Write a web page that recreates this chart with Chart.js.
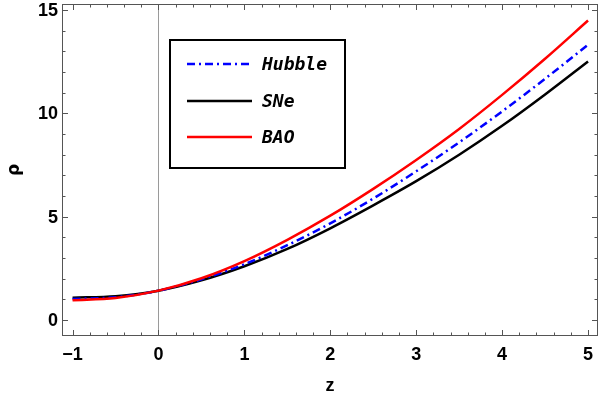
<!DOCTYPE html>
<html>
<head>
<meta charset="utf-8">
<script src="https://cdn.jsdelivr.net/npm/chart.js@4.4.0/dist/chart.umd.min.js"></script>
<style>
  html, body { margin: 0; padding: 0; background: #fff; }
  #wrap { width: 600px; height: 397px; position: relative; }
</style>
</head>
<body>
<div id="wrap"><canvas id="c"></canvas></div>
<script>
// values
const zValues = [-1, -0.5, 0, 0.5, 1, 1.5, 2, 2.5, 3, 3.5, 4, 4.5, 5];
const hubble  = [1.02, 1.10, 1.42, 1.97, 2.70, 3.62, 4.68, 5.88, 7.20, 8.60, 10.10, 11.68, 13.33];
const sne     = [1.08, 1.15, 1.42, 1.92, 2.60, 3.44, 4.44, 5.55, 6.72, 8.00, 9.40, 10.92, 12.52];
const bao     = [0.96, 1.06, 1.42, 2.02, 2.85, 3.88, 5.05, 6.35, 7.75, 9.25, 10.90, 12.65, 14.50];
const seriesNames = ["Hubble", "SNe", "BAO"];
const xTicks = [-1, 0, 1, 2, 3, 4, 5];
const yTicks = [0, 5, 10, 15];

const toPoints = (ys) => ys.map((v, i) => ({ x: zValues[i], y: v }));
const fmt = (v) => (v < 0 ? "\u2212" + Math.abs(v) : String(v));

const labelFont = "bold 18px 'Liberation Sans', Arial, sans-serif";

const framePlugin = {
  id: "frame",
  beforeDatasetsDraw(chart) {
    const { ctx, chartArea: a, scales: { x } } = chart;
    const px = Math.round(x.getPixelForValue(0)) + 0.5;
    ctx.save();
    ctx.strokeStyle = "#9a9a9a";
    ctx.lineWidth = 1;
    ctx.beginPath();
    ctx.moveTo(px, a.top);
    ctx.lineTo(px, a.bottom);
    ctx.stroke();
    ctx.restore();
  },
  afterDraw(chart) {
    const { ctx, chartArea: a, scales: { x, y } } = chart;
    ctx.save();
    ctx.strokeStyle = "#555";
    ctx.lineWidth = 1;
    ctx.strokeRect(a.left + 0.5, a.top + 0.5, a.right - a.left - 1, a.bottom - a.top - 1);

    const tick = (x0, y0, x1, y1) => {
      ctx.beginPath(); ctx.moveTo(x0, y0); ctx.lineTo(x1, y1); ctx.stroke();
    };
    // x ticks (bottom + top), minor every 0.2
    for (let v = -1.2; v <= 5.21; v += 0.2) {
      const r = Math.round(v * 10) / 10;
      if (r < x.min || r > x.max) continue;
      const major = Math.abs(r - Math.round(r)) < 1e-6;
      const len = major ? 6 : 3.5;
      const p = Math.round(x.getPixelForValue(r)) + 0.5;
      tick(p, a.bottom, p, a.bottom - len);
      tick(p, a.top, p, a.top + len);
    }
    // y ticks (left + right), minor every 1
    for (let v = -1; v <= 16; v++) {
      if (v < y.min || v > y.max) continue;
      const major = v % 5 === 0;
      const len = major ? 6 : 3.5;
      const p = Math.round(y.getPixelForValue(v)) + 0.5;
      tick(a.left, p, a.left + len, p);
      tick(a.right, p, a.right - len, p);
    }

    // tick labels
    ctx.fillStyle = "#000";
    ctx.font = labelFont;
    ctx.textAlign = "center";
    ctx.textBaseline = "middle";
    xTicks.forEach(v => ctx.fillText(fmt(v), x.getPixelForValue(v), a.bottom + 19));
    ctx.textAlign = "right";
    yTicks.forEach(v => ctx.fillText(fmt(v), a.left - 4, y.getPixelForValue(v) + 1));

    // axis titles
    ctx.textAlign = "center";
    ctx.fillText("z", (a.left + a.right) / 2, 386);
    ctx.save();
    ctx.translate(15, (a.top + a.bottom) / 2);
    ctx.rotate(-Math.PI / 2);
    ctx.font = "bold 17px 'DejaVu Sans', sans-serif";
    ctx.fillText("\u03c1", 0, 0);
    ctx.restore();

    // legend box
    const bx = 170, by = 40, bw = 175, bh = 128;
    ctx.lineWidth = 2;
    ctx.strokeStyle = "#000";
    ctx.strokeRect(bx, by, bw, bh);
    const rows = [64, 101, 137];
    ctx.font = "italic bold 18px 'DejaVu Sans Mono', monospace";
    ctx.textAlign = "left";
    seriesNames.forEach((name, i) => {
      const ds = chart.data.datasets.find(d => d.label === name);
      ctx.save();
      ctx.strokeStyle = ds.borderColor;
      ctx.lineWidth = ds.borderWidth;
      ctx.setLineDash(ds.borderDash || []);
      ctx.beginPath();
      ctx.moveTo(187, rows[i]);
      ctx.lineTo(252, rows[i]);
      ctx.stroke();
      ctx.restore();
      ctx.fillStyle = "#000";
      ctx.fillText(name, 262, rows[i] + 1);
    });
    ctx.restore();
  }
};

new Chart(document.getElementById("c"), {
  type: "line",
  data: {
    datasets: [
      { label: "Hubble", data: toPoints(hubble), borderColor: "#0000ff", borderWidth: 2.5,
        borderDash: [8, 4, 2, 4], order: 1 },
      { label: "SNe", data: toPoints(sne), borderColor: "#000000", borderWidth: 2.5, order: 2 },
      { label: "BAO", data: toPoints(bao), borderColor: "#ff0000", borderWidth: 2.5, order: 0 }
    ]
  },
  options: {
    responsive: true,
    maintainAspectRatio: false,
    animation: false,
    devicePixelRatio: 1,
    layout: { padding: { left: 62, right: 2, top: 4, bottom: 61 } },
    elements: {
      point: { radius: 0 },
      line: { cubicInterpolationMode: "monotone", fill: false }
    },
    plugins: { legend: { display: false }, tooltip: { enabled: false } },
    scales: {
      x: { type: "linear", display: false, min: -1.123, max: 5.116 },
      y: { type: "linear", display: false, min: -0.776, max: 15.3 }
    }
  },
  plugins: [framePlugin]
});
</script>
</body>
</html>
